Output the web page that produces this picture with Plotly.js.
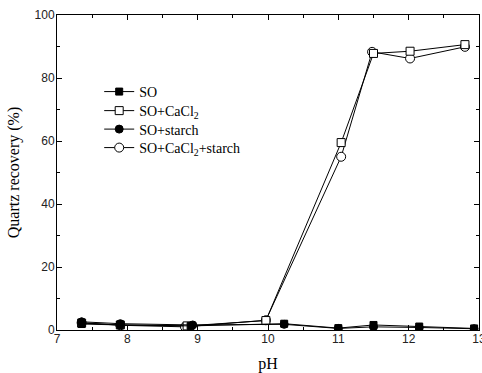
<!DOCTYPE html>
<html>
<head>
<meta charset="utf-8">
<script src="https://cdn.plot.ly/plotly-3.0.1.min.js"></script>
<style>html,body{margin:0;padding:0;background:#fff;}#chart{width:482px;height:373px;}</style>
</head>
<body>
<div id="chart"></div>
<script>
const seriesNames = ["SO", "SO+CaCl<sub>2</sub>", "SO+starch", "SO+CaCl<sub>2</sub>+starch"];
const pH_SO = [7.35, 7.9, 8.9, 10.23, 11.0, 11.5, 12.15, 12.93];
const rec_SO = [1.9, 1.6, 1.3, 2.0, 0.6, 1.6, 1.1, 0.5];
const pH_SOCa = [7.35, 7.9, 8.85, 9.97, 11.04, 11.5, 12.02, 12.8];
const rec_SOCa = [2.2, 1.6, 1.3, 3.0, 59.5, 87.8, 88.5, 90.6];
const pH_SOSt = [7.35, 7.9, 8.93, 10.23, 11.0, 11.5, 12.15, 12.93];
const rec_SOSt = [2.6, 2.0, 1.6, 1.8, 0.5, 1.0, 0.8, 0.4];
const pH_SOCaSt = [7.35, 7.9, 8.82, 9.97, 11.04, 11.48, 12.02, 12.8];
const rec_SOCaSt = [2.3, 1.5, 1.0, 3.1, 55.0, 88.3, 86.2, 89.9];
const xTicks = [7, 8, 9, 10, 11, 12, 13];
const yTicks = [0, 20, 40, 60, 80, 100];

function tr(name, leg, x, y, sym, size, fill) {
  return {
    name: name, legend: leg, x: x, y: y, type: 'scatter', mode: 'lines+markers',
    line: {color: '#000', width: 1},
    marker: {symbol: sym, size: size, color: fill, line: {color: '#000', width: 1}}
  };
}
const data = [
  tr(seriesNames[3], 'legend4', pH_SOCaSt, rec_SOCaSt, 'circle', 9, '#fff'),
  tr(seriesNames[1], 'legend2', pH_SOCa, rec_SOCa, 'square', 8, '#fff'),
  tr(seriesNames[2], 'legend3', pH_SOSt, rec_SOSt, 'circle', 8, '#000'),
  tr(seriesNames[0], 'legend', pH_SO, rec_SO, 'square', 7, '#000')
];
const axisCommon = {
  showline: true, linecolor: '#000', linewidth: 1, mirror: 'allticks',
  ticks: 'inside', ticklen: 5, tickcolor: '#000', showgrid: false, zeroline: false,
  ticklabeloverflow: 'allow',
  tickfont: {family: 'Liberation Sans, Arial, sans-serif', size: 12, color: '#222'}
};
const titleFont = {family: 'Liberation Serif, Times New Roman, serif', size: 16, color: '#000'};
function leg(y) {
  return {
    x: 0.1, y: y, xanchor: 'left', yanchor: 'middle',
    font: {family: 'Liberation Serif, Times New Roman, serif', size: 14, color: '#000'},
    bgcolor: 'rgba(0,0,0,0)', itemwidth: 30
  };
}
const layout = {
  width: 482, height: 373,
  margin: {l: 57, r: 3, t: 15, b: 43},
  paper_bgcolor: '#fff', plot_bgcolor: '#fff',
  showlegend: true,
  legend: leg(0.7556),
  legend2: leg(0.6952),
  legend3: leg(0.6365),
  legend4: leg(0.5778),
  xaxis: Object.assign({}, axisCommon, {
    range: [7, 13], tickvals: xTicks, ticktext: xTicks.map(String),
    ticklabelstandoff: -2,
    minor: {dtick: 0.5, ticks: 'inside', ticklen: 3, tickcolor: '#000'},
    title: {text: 'pH', font: titleFont, standoff: 12}
  }),
  yaxis: Object.assign({}, axisCommon, {
    range: [0, 100], tickvals: yTicks, ticktext: yTicks.map(String),
    ticklabelstandoff: -1,
    minor: {dtick: 10, ticks: 'inside', ticklen: 3, tickcolor: '#000'},
    title: {text: 'Quartz recovery (%)', font: titleFont, standoff: 10}
  })
};
Plotly.newPlot('chart', data, layout, {displayModeBar: false, staticPlot: true});
</script>
</body>
</html>
